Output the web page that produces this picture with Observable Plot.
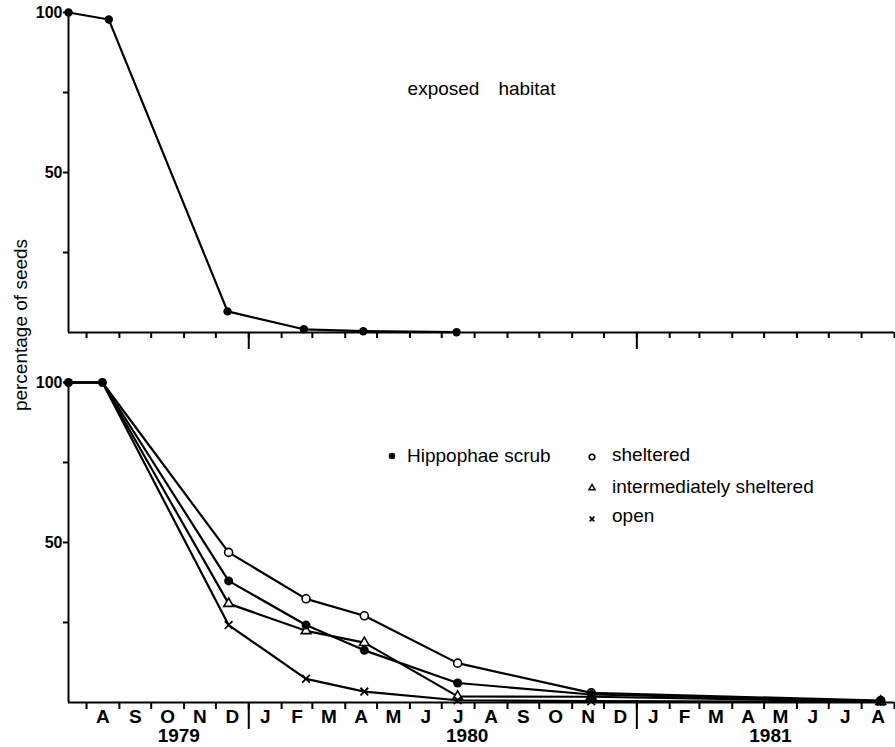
<!DOCTYPE html>
<html>
<head>
<meta charset="utf-8">
<script src="https://cdn.jsdelivr.net/npm/d3@7"></script>
<script src="https://cdn.jsdelivr.net/npm/@observablehq/plot@0.6"></script>
<style>
  html, body { margin: 0; padding: 0; background: #fff; }
  body { font-family: "Liberation Sans", Arial, Helvetica, sans-serif; color: #000; }
  #wrap { position: relative; width: 895px; height: 747px; overflow: hidden; }
  #topPanel, #bottomPanel, #legend { position: absolute; left: 0; }
  #topPanel { top: 0; }
  #bottomPanel { top: 352px; }
  #ylabel {
    position: absolute; left: 20px; top: 325px;
    transform: translate(-50%, -50%) rotate(-90deg);
    white-space: nowrap; font-size: 19px; line-height: 19px;
  }
  svg { overflow: visible; }
</style>
</head>
<body>
<div id="wrap">
  <div id="topPanel"></div>
  <div id="bottomPanel"></div>
  <div id="ylabel">percentage of seeds</div>
  <div id="legend"></div>
</div>
<script>
// ---------- data ----------
const xStart = "1979-07-15";
const xEnd = "1981-09-01";

// top panel: exposed habitat
const exposedTitle = "exposed\u2003habitat";
const exposedDates = ["1979-07-15", "1979-08-22", "1979-12-12", "1980-02-22", "1980-04-18", "1980-07-15"];
const exposedValues = [100, 97.8, 6.6, 1.0, 0.4, 0.1];

// bottom panel
const seriesNames = ["Hippophae scrub", "sheltered", "intermediately sheltered", "open"];
const bottomDates = ["1979-07-15", "1979-08-16", "1979-12-13", "1980-02-24", "1980-04-19", "1980-07-16", "1980-11-19", "1981-08-19"];
const hippophaeValues    = [100, 100, 38.0, 24.2, 16.3, 6.1, 2.5, 0.4];
const shelteredValues    = [100, 100, 46.9, 32.4, 27.1, 12.3, 3.0, 0.6];
const intermediateValues = [100, 100, 30.9, 22.4, 18.7, 1.9, 1.8, 0.3];
const openValues         = [100, 100, 24.2, 7.4, 3.4, 0.7, 0.4, 0.2];

// axes
const yTicks = [25, 50, 75, 100];
const yTickLabels = ["", "50", "", "100"];
const monthLetters = ["J", "F", "M", "A", "M", "J", "J", "A", "S", "O", "N", "D"];
const monthLabelFrom = "1979-08-01";
const monthLabelTo = "1981-08-01";
const yearLabels = ["1979", "1980", "1981"];
const yearLabelDates = ["1979-10-27", "1980-07-25", "1981-05-07"];

// ---------- derived tables ----------
const parse = d3.utcParse("%Y-%m-%d");
const xDomain = [parse(xStart), parse(xEnd)];
const exposed = exposedDates.map((d, i) => ({date: parse(d), value: exposedValues[i]}));
const seriesValues = [hippophaeValues, shelteredValues, intermediateValues, openValues];
const rows = seriesNames.flatMap((s, k) =>
  bottomDates.map((d, i) => ({series: s, idx: i, date: parse(d), value: seriesValues[k][i]})));
const monthTicks = d3.utcMonth.range(parse(monthLabelFrom), d3.utcDay.offset(parse(monthLabelTo), 32));
const yearTicks = d3.utcYear.range(xDomain[0], xDomain[1]);
const monthMids = d3.utcMonth.range(parse(monthLabelFrom), d3.utcDay.offset(parse(monthLabelTo), 1))
  .map(m => new Date((+m + +d3.utcMonth.offset(m, 1)) / 2));
const yearLabelDatesParsed = yearLabelDates.map(parse);

const FONT = '"Liberation Sans", Arial, Helvetica, sans-serif';
const yAxis = () => Plot.axisY(yTicks, {
  tickSize: 5, tickPadding: 1, label: null,
  tickFormat: d => yTickLabels[yTicks.indexOf(d)],
  fontSize: 16, fontWeight: "bold", strokeWidth: 2
});
const frameLines = () => [
  Plot.ruleY([0], {stroke: "#000", strokeWidth: 2}),
  Plot.ruleX([xDomain[0]], {y1: 0, y2: 100, stroke: "#000", strokeWidth: 2})
];

// ---------- top panel ----------
const topPlot = Plot.plot({
  width: 895, height: 352,
  marginLeft: 68, marginRight: 1, marginTop: 12, marginBottom: 20,
  x: {type: "utc", domain: xDomain},
  y: {domain: [0, 100]},
  style: {fontFamily: FONT, color: "#000", background: "transparent", overflow: "visible"},
  marks: [
    yAxis(),
    Plot.axisX(monthTicks, {tickSize: 6, tickFormat: () => "", label: null, strokeWidth: 2}),
    Plot.axisX(yearTicks, {tickSize: 17, tickFormat: () => "", label: null, strokeWidth: 2}),
    ...frameLines(),
    Plot.line(exposed, {x: "date", y: "value", stroke: "#000", strokeWidth: 2.2}),
    Plot.dot(exposed, {x: "date", y: "value", r: 4.2, fill: "#000"}),
    Plot.text([exposedTitle], {frameAnchor: "top", dy: 69, fontSize: 19, fill: "#000"})
  ]
});
document.getElementById("topPanel").append(topPlot);

// ---------- bottom panel ----------
const bottomPlot = Plot.plot({
  width: 895, height: 395,
  marginLeft: 68, marginRight: 1, marginTop: 30, marginBottom: 45,
  x: {type: "utc", domain: xDomain},
  y: {domain: [0, 100]},
  style: {fontFamily: FONT, color: "#000", background: "transparent", overflow: "visible"},
  marks: [
    yAxis(),
    Plot.axisX(monthTicks, {tickSize: 7, tickFormat: () => "", label: null, strokeWidth: 2}),
    Plot.axisX(yearTicks, {tickSize: 27, tickFormat: () => "", label: null, strokeWidth: 2}),
    Plot.axisX(monthMids, {tickSize: 0, tickPadding: 7, label: null,
      tickFormat: d => monthLetters[d.getUTCMonth()], fontSize: 19, fontWeight: "bold"}),
    Plot.axisX(yearLabelDatesParsed, {tickSize: 0, tickPadding: 26, label: null,
      tickFormat: d => yearLabels[yearLabelDatesParsed.findIndex(v => +v === +d)], fontSize: 19, fontWeight: "bold"}),
    ...frameLines(),
    Plot.line(rows, {x: "date", y: "value", z: "series", stroke: "#000", strokeWidth: 2.2}),
    Plot.dot(rows, {filter: d => d.series === seriesNames[1] && d.idx >= 2, x: "date", y: "value",
      r: 4, fill: "#fff", stroke: "#000", strokeWidth: 1.6}),
    Plot.dot(rows, {filter: d => d.series === seriesNames[2] && d.idx >= 2, x: "date", y: "value",
      symbol: "triangle", r: 3.6, fill: "#fff", stroke: "#000", strokeWidth: 1.6}),
    Plot.dot(rows, {filter: d => d.series === seriesNames[3] && d.idx >= 2, x: "date", y: "value",
      symbol: "times", r: 3.6, stroke: "#000", strokeWidth: 1.8}),
    Plot.dot(rows, {filter: d => d.series === seriesNames[0], x: "date", y: "value",
      r: 4.5, fill: "#000"})
  ]
});
document.getElementById("bottomPanel").append(bottomPlot);

// ---------- legend ----------
const legendItems = [
  {name: seriesNames[0], kind: "filled", sx: 392, sy: 456, tx: 407, ty: 462},
  {name: seriesNames[1], kind: "circle", sx: 592, sy: 457, tx: 612, ty: 461},
  {name: seriesNames[2], kind: "triangle", sx: 592, sy: 488, tx: 612, ty: 493},
  {name: seriesNames[3], kind: "times", sx: 592, sy: 519, tx: 612, ty: 522}
];
const lg = d3.select("#legend").append("svg")
  .attr("width", 895).attr("height", 747)
  .style("position", "absolute").style("left", "0px").style("top", "0px")
  .style("font-family", FONT);
legendItems.forEach(it => {
  if (it.kind === "filled") {
    lg.append("circle").attr("cx", it.sx).attr("cy", it.sy).attr("r", 3.3).attr("fill", "#000");
  } else if (it.kind === "circle") {
    lg.append("circle").attr("cx", it.sx).attr("cy", it.sy).attr("r", 2.8)
      .attr("fill", "#fff").attr("stroke", "#000").attr("stroke-width", 1.6);
  } else if (it.kind === "triangle") {
    lg.append("path").attr("transform", `translate(${it.sx},${it.sy})`)
      .attr("d", d3.symbol(d3.symbolTriangle, 16)())
      .attr("fill", "#fff").attr("stroke", "#000").attr("stroke-width", 1.5);
  } else {
    lg.append("path").attr("transform", `translate(${it.sx},${it.sy})`)
      .attr("d", d3.symbol(d3.symbolTimes, 16)())
      .attr("fill", "none").attr("stroke", "#000").attr("stroke-width", 1.8);
  }
  lg.append("text").attr("x", it.tx).attr("y", it.ty)
    .attr("font-size", 19).attr("fill", "#000").text(it.name);
});
</script>
</body>
</html>
